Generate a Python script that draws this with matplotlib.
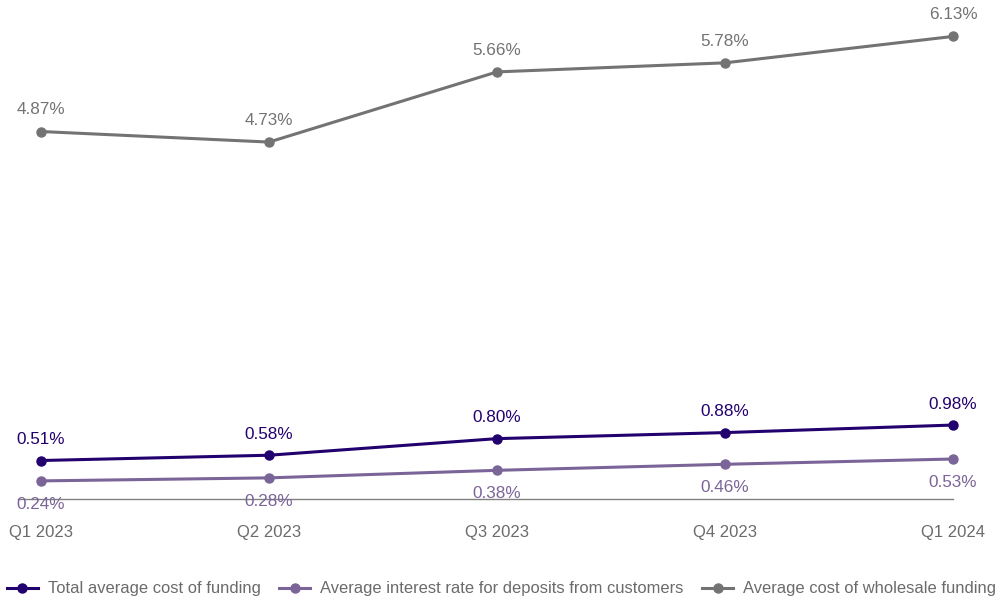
import matplotlib
matplotlib.use("Agg")
import matplotlib.pyplot as plt
from matplotlib.lines import Line2D

# =================================
# DATA
# =================================

quarters = ["Q1 2023", "Q2 2023", "Q3 2023", "Q4 2023", "Q1 2024"]

total_cost = [0.51, 0.58, 0.80, 0.88, 0.98]
deposit_rate = [0.24, 0.28, 0.38, 0.46, 0.53]
wholesale_cost = [4.87, 4.73, 5.66, 5.78, 6.13]

series_names = [
    "Total average cost of funding",
    "Average interest rate for deposits from customers",
    "Average cost of wholesale funding",
]

c_total = "#22006e"
c_deposit = "#7b6497"
c_wholesale = "#737373"
c_text = "#6b6b6b"

plt.rcParams["font.family"] = ["Liberation Sans", "DejaVu Sans"]

# =================================
# PLOT
# =================================

fig = plt.figure(figsize=(10.03, 6.01), dpi=100)
ax = fig.add_axes([0, 1 - 499 / 601, 1, 499 / 601])

x = list(range(len(quarters)))

ax.plot([-0.1, 4.0], [0, 0], color="#808080", lw=1.0, zorder=1, clip_on=False)

ax.plot(x, total_cost, color=c_total, lw=2.2, marker="o", ms=6.5, zorder=3, clip_on=False)
ax.plot(x, deposit_rate, color=c_deposit, lw=2.2, marker="o", ms=6.5, zorder=3, clip_on=False)
ax.plot(x, wholesale_cost, color=c_wholesale, lw=2.2, marker="o", ms=6.5, zorder=3, clip_on=False)

# =================================
# VALUE LABELS
# =================================

for i, v in enumerate(total_cost):
    ax.annotate(f"{v:.2f}%", (i, v), xytext=(0, 15), textcoords="offset points",
                ha="center", va="center", color=c_total, fontsize=12.3)

for i, v in enumerate(deposit_rate):
    ax.annotate(f"{v:.2f}%", (i, v), xytext=(0, -17), textcoords="offset points",
                ha="center", va="center", color=c_deposit, fontsize=12.3)

for i, v in enumerate(wholesale_cost):
    ax.annotate(f"{v:.2f}%", (i, v), xytext=(0, 15.5), textcoords="offset points",
                ha="center", va="center", color=c_wholesale, fontsize=12.3)

# =================================
# AXES
# =================================

ax.set_xlim(-41 / 228, (1003 - 41) / 228)
ax.set_ylim(0, 499 / 75.46)

for i, q in enumerate(quarters):
    ax.text(i, -0.44, q, ha="center", va="center", color=c_text, fontsize=12)

ax.axis("off")

# =================================
# LEGEND
# =================================

handles = [
    Line2D([], [], color=c_total, lw=2.2, marker="o", ms=6.5),
    Line2D([], [], color=c_deposit, lw=2.2, marker="o", ms=6.5),
    Line2D([], [], color=c_wholesale, lw=2.2, marker="o", ms=6.5),
]

fig.legend(
    handles,
    series_names,
    loc="center",
    bbox_to_anchor=(0.5, 1 - 589 / 601),
    ncol=3,
    frameon=False,
    fontsize=11.9,
    labelcolor=c_text,
    handlelength=1.9,
    handletextpad=0.6,
    columnspacing=1.1,
    borderpad=0,
)

fig.savefig("out.png", dpi=100)
